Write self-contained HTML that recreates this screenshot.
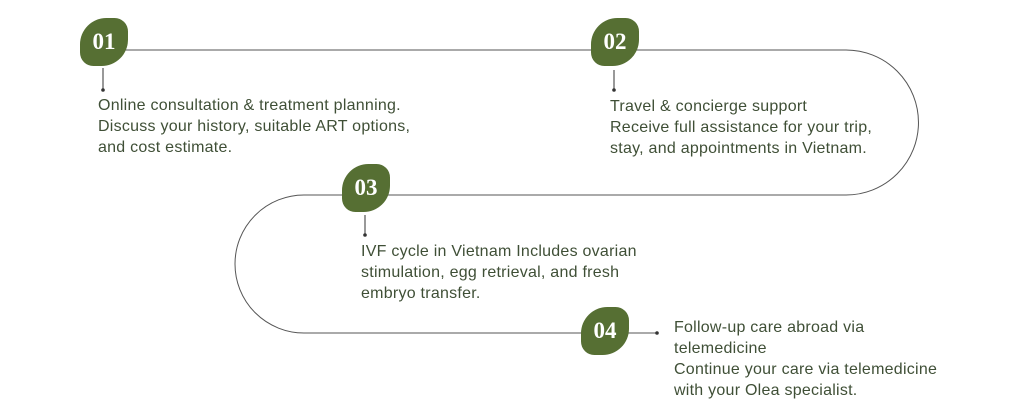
<!DOCTYPE html>
<html><head><meta charset="utf-8"><style>
body{margin:0;width:1024px;height:409px;background:#fff;position:relative;overflow:hidden;font-family:"Liberation Sans",sans-serif}
.leaf{position:absolute;width:48px;height:48px;background:#566f33;border-radius:55% 28% 55% 28%;color:#fff;font-family:"Liberation Serif",serif;font-weight:bold;font-size:23px;display:flex;align-items:center;justify-content:center}
.t{position:absolute;font-size:16px;letter-spacing:0.25px;line-height:21px;color:#3f4f36;white-space:nowrap}
svg{position:absolute;left:0;top:0}
</style></head><body>
<svg width="1024" height="409">
<path d="M125 50 H846 A72.5 72.5 0 0 1 846 195 H304 A69 69 0 0 0 304 333 H582" fill="none" stroke="#555" stroke-width="1"/>
<line x1="628" y1="333" x2="656" y2="333" stroke="#555"/>
<circle cx="657" cy="333" r="1.8" fill="#333"/>
<line x1="103" y1="68" x2="103" y2="90" stroke="#333"/><circle cx="103" cy="90" r="1.8" fill="#333"/>
<line x1="614" y1="70" x2="614" y2="90" stroke="#333"/><circle cx="614" cy="90" r="1.8" fill="#333"/>
<line x1="365" y1="215" x2="365" y2="235" stroke="#333"/><circle cx="365" cy="235" r="1.8" fill="#333"/>
</svg>
<div class="leaf" style="left:80px;top:18px">01</div>
<div class="leaf" style="left:591px;top:18px">02</div>
<div class="leaf" style="left:342px;top:164px">03</div>
<div class="leaf" style="left:581px;top:307px">04</div>
<div class="t" style="left:98px;top:95px">Online consultation &amp; treatment planning.<br>Discuss your history, suitable ART options,<br>and cost estimate.</div>
<div class="t" style="left:610px;top:96px">Travel &amp; concierge support<br>Receive full assistance for your trip,<br>stay, and appointments in Vietnam.</div>
<div class="t" style="left:361px;top:241px">IVF cycle in Vietnam Includes ovarian<br>stimulation, egg retrieval, and fresh<br>embryo transfer.</div>
<div class="t" style="left:674px;top:317px">Follow-up care abroad via<br>telemedicine<br>Continue your care via telemedicine<br>with your Olea specialist.</div>
</body></html>
